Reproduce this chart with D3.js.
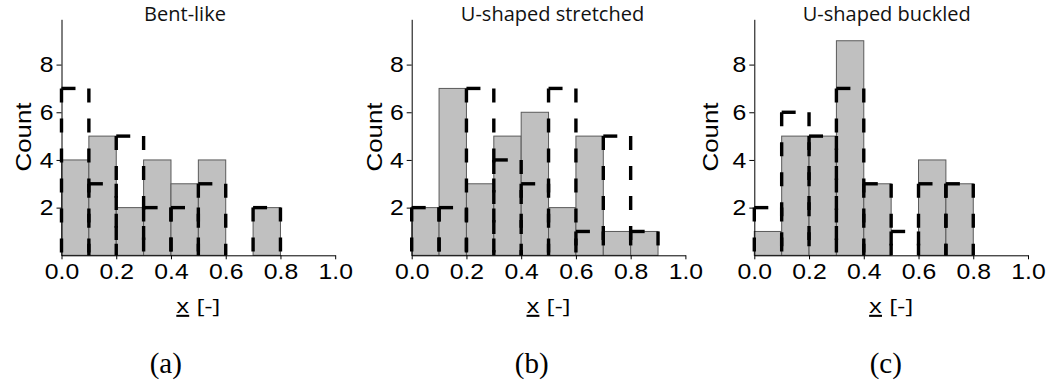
<!DOCTYPE html>
<html>
<head>
<meta charset="utf-8">
<script src="https://cdn.jsdelivr.net/npm/d3@7"></script>
<style>
  html, body { margin: 0; padding: 0; background: #fff; }
  svg { display: block; }
</style>
</head>
<body>
<svg id="chart" width="1051" height="383"></svg>
<script>
// ---- data ----
const categories = ["Bent-like", "U-shaped stretched", "U-shaped buckled"];
const panelLabels = ["(a)", "(b)", "(c)"];
const binStarts = [0.0, 0.1, 0.2, 0.3, 0.4, 0.5, 0.6, 0.7, 0.8, 0.9];
const binWidth = 0.1;
const barsA = [4, 5, 2, 4, 3, 4, 0, 2, 0, 0];
const dashA = [7, 3, 5, 2, 2, 3, 0, 2, 0, 0];
const barsB = [2, 7, 3, 5, 6, 2, 5, 1, 1, 0];
const dashB = [2, 2, 7, 4, 3, 7, 1, 5, 1, 0];
const barsC = [1, 5, 5, 9, 3, 0, 4, 3, 0, 0];
const dashC = [2, 6, 5, 7, 3, 1, 3, 3, 0, 0];
const xTicks = [0.0, 0.2, 0.4, 0.6, 0.8, 1.0];
const yTicks = [2, 4, 6, 8];
const xLabelVar = "x";
const xLabelUnit = "[-]";
const yLabel = "Count";

// ---- layout ----
const barSeries = [barsA, barsB, barsC];
const dashSeries = [dashA, dashB, dashC];
const axisLeftX = [61.5, 411.7, 754.3];
const plotW = 273.7;
const titleX = [185, 552.5, 886.7];
const letterX = [165.8, 531.7, 885.8];
const countOffset = [-31, -30, -36];
const baseY = 255.3, topY = 19.3;

const svg = d3.select("#chart");

const y = d3.scaleLinear().domain([0, 9.9]).range([baseY, topY]);

categories.forEach((cat, p) => {
  const x = d3.scaleLinear().domain([0, 1]).range([axisLeftX[p], axisLeftX[p] + plotW]);
  const g = svg.append("g");

  // gray bars
  const bars = binStarts.map((b, i) => ({ x0: b, x1: b + binWidth, v: barSeries[p][i] })).filter(d => d.v > 0);
  g.selectAll("rect.bar").data(bars).join("rect")
    .attr("class", "bar")
    .attr("x", d => x(d.x0))
    .attr("width", d => x(d.x1) - x(d.x0))
    .attr("y", d => y(d.v))
    .attr("height", d => y(0) - y(d.v))
    .attr("fill", "#c0c0c0")
    .attr("stroke", "#5a5a5a")
    .attr("stroke-width", 1);

  // dashed outline bars: each edge drawn from its top corner
  const segs = [];
  binStarts.forEach((b, i) => {
    const v = dashSeries[p][i];
    if (v <= 0) return;
    segs.push({ xa: b, ya: v, xb: b, yb: 0 });
    segs.push({ xa: b, ya: v, xb: b + binWidth, yb: v });
    segs.push({ xa: b + binWidth, ya: v, xb: b + binWidth, yb: 0 });
  });
  g.selectAll("line.dash").data(segs).join("line")
    .attr("class", "dash")
    .attr("x1", d => x(d.xa)).attr("y1", d => y(d.ya))
    .attr("x2", d => x(d.xb)).attr("y2", d => y(d.yb))
    .attr("stroke", "#000")
    .attr("stroke-width", 3.4)
    .attr("stroke-dasharray", "14,16");

  // x axis
  const gx = g.append("g")
    .attr("transform", `translate(0,${baseY})`)
    .call(d3.axisBottom(x).tickValues(xTicks).tickFormat(d3.format(".1f")).tickSize(4).tickSizeOuter(0).tickPadding(4));
  gx.select(".domain").attr("stroke", "#000");
  gx.selectAll(".tick line").attr("stroke", "#000");
  gx.selectAll(".tick text")
    .attr("font-family", "'Liberation Sans', Arial, sans-serif")
    .attr("font-size", 22.5)
    .attr("fill", "#000")
    .attr("transform", "scale(1.1,1)");

  // y axis
  const gy = g.append("g")
    .attr("transform", `translate(${axisLeftX[p]},0)`)
    .call(d3.axisLeft(y).tickValues(yTicks).tickSize(5).tickSizeOuter(0).tickPadding(3));
  gy.select(".domain").attr("stroke", "#000");
  gy.selectAll(".tick line").attr("stroke", "#000");
  gy.selectAll(".tick text")
    .attr("font-family", "'Liberation Sans', Arial, sans-serif")
    .attr("font-size", 22.5)
    .attr("fill", "#000")
    .attr("x", null)
    .attr("transform", "translate(-8,0) scale(1.1,1)");

  // title
  g.append("text")
    .attr("x", 0).attr("y", 0)
    .attr("transform", `translate(${titleX[p]},20.7)`)
    .attr("text-anchor", "middle")
    .attr("font-family", "'Open Sans', sans-serif")
    .attr("font-size", 20)
    .attr("fill", "#111")
    .text(cat);

  // y label
  g.append("text")
    .attr("transform", `translate(${axisLeftX[p] + countOffset[p]},137) rotate(-90) scale(1.15,1)`)
    .attr("text-anchor", "middle")
    .attr("font-family", "'Liberation Sans', Arial, sans-serif")
    .attr("font-size", 22.5)
    .attr("fill", "#000")
    .text(yLabel);

  // x label
  const xl = g.append("text")
    .attr("transform", `translate(${axisLeftX[p] + plotW / 2},313) scale(1.2,1)`)
    .attr("text-anchor", "middle")
    .attr("font-family", "'Open Sans', sans-serif")
    .attr("font-size", 20.5)
    .attr("fill", "#000");
  xl.append("tspan").attr("text-decoration", "underline").text(xLabelVar);
  xl.append("tspan").attr("dx", 6).text(xLabelUnit);

  // panel letter
  g.append("text")
    .attr("x", letterX[p]).attr("y", 373)
    .attr("text-anchor", "middle")
    .attr("font-family", "'Liberation Serif', 'Times New Roman', serif")
    .attr("font-size", 29)
    .attr("fill", "#000")
    .text(panelLabels[p]);
});
</script>
</body>
</html>
